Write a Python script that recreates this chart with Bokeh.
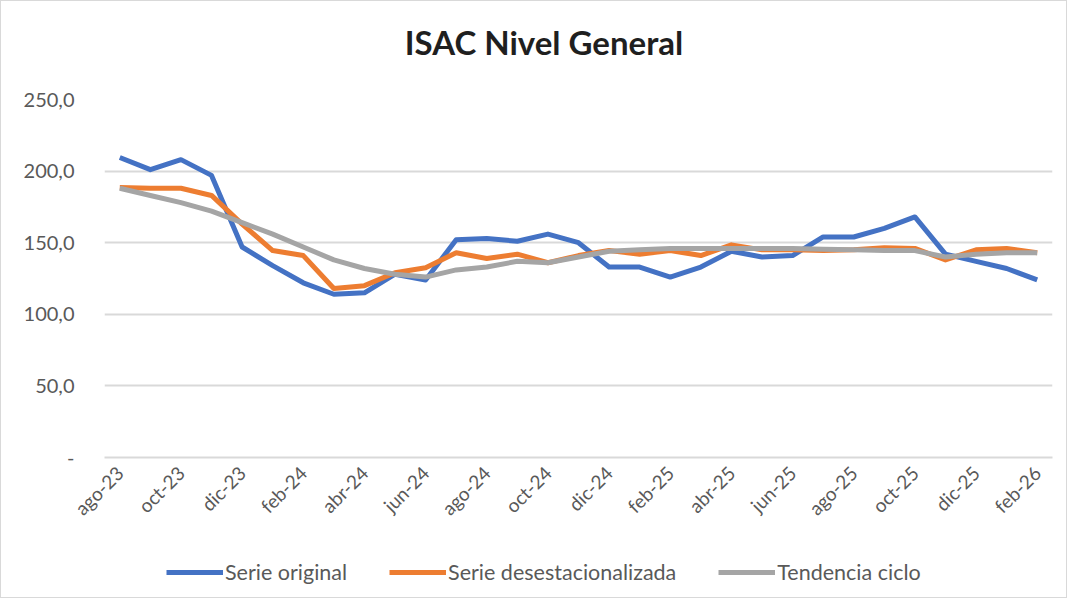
import math
from bokeh.plotting import figure
from bokeh.layouts import column
from bokeh.models import FixedTicker, Legend, LegendItem, Range1d, Label
from bokeh.embed import file_html
from bokeh.resources import INLINE

months = ["ago-23", "sep-23", "oct-23", "nov-23", "dic-23", "ene-24", "feb-24", "mar-24",
          "abr-24", "may-24", "jun-24", "jul-24", "ago-24", "sep-24", "oct-24", "nov-24",
          "dic-24", "ene-25", "feb-25", "mar-25", "abr-25", "may-25", "jun-25", "jul-25",
          "ago-25", "sep-25", "oct-25", "nov-25", "dic-25", "ene-26", "feb-26"]

serie_original = [209.5, 201, 208, 197, 147, 134, 122, 114, 115, 128, 124, 152, 153, 151,
                  156, 150, 133, 133, 126, 133, 144, 140, 141, 154, 154, 160, 168, 142,
                  137, 132, 124]
serie_desestacionalizada = [188.5, 188, 188, 183, 163, 144.5, 141, 118, 120, 129, 132.5,
                            143, 139, 142, 136, 141, 144.5, 142, 144.5, 141, 148.5, 145,
                            145, 144.5, 145, 146.5, 146, 138, 145, 146, 143]
tendencia_ciclo = [188, 183, 178, 172, 164, 156, 147, 138, 132, 128, 126, 131, 133, 137,
                   136, 140, 144, 145, 146, 146, 146, 146, 146, 145.5, 145, 144.5, 144.5,
                   140, 142, 143, 143]

title_text = "ISAC Nivel General"
series_names = ["Serie original", "Serie desestacionalizada", "Tendencia ciclo"]
series_colors = ["#4472C4", "#ED7D31", "#A5A5A5"]
series_values = [serie_original, serie_desestacionalizada, tendencia_ciclo]

y_ticks = [0, 50, 100, 150, 200, 250]
y_tick_labels = ["-", "50,0", "100,0", "150,0", "200,0", "250,0"]

FONT = "Lato"
TXT = "#595959"
W = 1065
FRAME_W = 948

x = list(range(len(months)))

# ---- title strip (its frame is aligned with the chart frame by the column layout) ----
p0 = figure(width=W, height=84, output_backend="svg", toolbar_location=None,
            x_range=Range1d(0, FRAME_W), y_range=Range1d(0, 84), min_border=0,
            x_axis_location=None, y_axis_location=None, title=None)
p0.grid.grid_line_color = None
p0.outline_line_color = None
p0.add_layout(Label(x=439.5, y=44, text=title_text, text_align="center",
                    text_baseline="middle", text_font=FONT, text_font_style="bold",
                    text_font_size="33px", text_color="#1f1f1f"))

# ---- main chart ----
p = figure(width=W, height=447, output_backend="svg", toolbar_location=None,
           x_range=Range1d(-0.5, len(months) - 0.5), y_range=Range1d(0, 250),
           min_border_left=103, min_border_right=14, min_border_top=14,
           min_border_bottom=75, title=None)
p.outline_line_color = None

for vals, col in zip(series_values, series_colors):
    p.line(x, vals, line_color=col, line_width=5, line_join="round")

p.xaxis.ticker = FixedTicker(ticks=x[::2])
p.xaxis.major_label_overrides = {i: months[i] for i in x}
p.xaxis.major_label_orientation = math.pi / 4
p.xaxis.major_label_text_font = FONT
p.xaxis.major_label_text_font_size = "19px"
p.xaxis.major_label_text_color = TXT
p.xaxis.axis_line_color = "#D9D9D9"
p.xaxis.axis_line_width = 2
p.xaxis.major_tick_line_color = None
p.xaxis.minor_tick_line_color = None
p.xaxis.major_label_standoff = 6
p.xgrid.grid_line_color = None

p.yaxis.ticker = FixedTicker(ticks=y_ticks)
p.yaxis.major_label_overrides = {t: l for t, l in zip(y_ticks, y_tick_labels)}
p.yaxis.major_label_text_font = FONT
p.yaxis.major_label_text_font_size = "20px"
p.yaxis.major_label_text_color = TXT
p.yaxis.axis_line_color = None
p.yaxis.major_tick_line_color = None
p.yaxis.minor_tick_line_color = None
p.yaxis.major_label_standoff = 24
p.ygrid.grid_line_color = "#D9D9D9"
p.ygrid.grid_line_width = 2

# ---- legend strip (its series lie outside its view; only the legend shows) ----
p2 = figure(width=W, height=65, output_backend="svg", toolbar_location=None,
            x_range=Range1d(-0.5, len(months) - 0.5), y_range=Range1d(-2, -1),
            min_border=0, x_axis_location=None, y_axis_location=None, title=None)
p2.grid.grid_line_color = None
p2.outline_line_color = None
leg_r = [p2.line(x, vals, line_color=c, line_width=5)
         for vals, c in zip(series_values, series_colors)]

legend = Legend(items=[LegendItem(label=n, renderers=[r]) for n, r in zip(series_names, leg_r)],
                orientation="horizontal", location=(62, 12),
                label_text_font=FONT, label_text_font_size="21.5px",
                label_text_color=TXT, glyph_width=57, glyph_height=20,
                label_standoff=2, spacing=42, border_line_color=None,
                background_fill_alpha=0, margin=0, padding=4)
p2.add_layout(legend, "center")

layout = column(p0, p, p2, spacing=0, styles={"border": "1px solid #d9d9d9"})

open("out.html", "w").write(file_html(layout, INLINE))
